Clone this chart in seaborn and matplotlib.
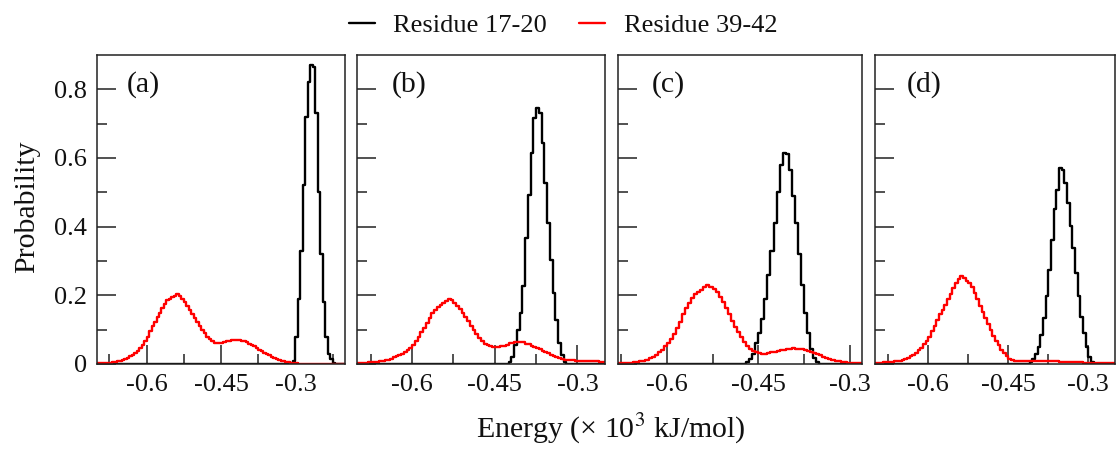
import numpy as np
import pandas as pd
import matplotlib
matplotlib.use("Agg")
import matplotlib.pyplot as plt
import seaborn as sns
from matplotlib.lines import Line2D

# ---------------- data ----------------
BIN = 0.005
panel_labels = ["(a)", "(b)", "(c)", "(d)"]
series_names = ["Residue 17-20", "Residue 39-42"]
x_limits = [(-0.70, -0.20), (-0.70, -0.25), (-0.68, -0.28), (-0.70, -0.25)]
major_xticks = [-0.6, -0.45, -0.3]
major_xtick_labels = ["-0.6", "-0.45", "-0.3"]
minor_xticks = [-0.675, -0.525, -0.375, -0.225]
yticks = [0, 0.2, 0.4, 0.6, 0.8]
ytick_labels = ["0", "0.2", "0.4", "0.6", "0.8"]
minor_yticks = [0.1, 0.3, 0.5, 0.7]

# Residue 17-20 (black) histograms: first bin left edge + bin heights
black_start = [-0.305, -0.425, -0.470, -0.410]
black_a = [0.01, 0.08, 0.19, 0.33, 0.52, 0.72, 0.82, 0.87, 0.865, 0.73, 0.50,
           0.32, 0.18, 0.08, 0.03, 0.015, 0.004]
black_b = [0.007, 0.021, 0.055, 0.10, 0.148, 0.226, 0.367, 0.493, 0.615, 0.717,
           0.747, 0.73, 0.644, 0.528, 0.411, 0.304, 0.206, 0.128, 0.06, 0.026, 0.007]
black_c = [0.005, 0.015, 0.03, 0.06, 0.09, 0.13, 0.19, 0.26, 0.33, 0.41, 0.50,
           0.58, 0.615, 0.612, 0.565, 0.49, 0.41, 0.32, 0.23, 0.15, 0.09, 0.045,
           0.018, 0.005]
black_d = [0.007, 0.015, 0.03, 0.05, 0.085, 0.134, 0.197, 0.274, 0.362, 0.45,
           0.508, 0.571, 0.565, 0.528, 0.469, 0.401, 0.338, 0.265, 0.197, 0.138,
           0.09, 0.05, 0.021, 0.007]

# Residue 39-42 (red) histograms
red_start = [-0.700, -0.700, -0.680, -0.700]
red_a = [0.002, 0.002, 0.002, 0.003, 0.003, 0.004, 0.005, 0.006, 0.008, 0.010,
         0.012, 0.015, 0.018, 0.022, 0.027, 0.032, 0.038, 0.046, 0.055, 0.066,
         0.080, 0.095, 0.110, 0.123, 0.137, 0.150, 0.163, 0.176, 0.185, 0.188,
         0.195, 0.198, 0.204, 0.198, 0.190, 0.180, 0.168, 0.158, 0.147, 0.135,
         0.122, 0.110, 0.099, 0.089, 0.080, 0.072, 0.066, 0.062, 0.060, 0.060,
         0.061, 0.063, 0.066, 0.068, 0.070, 0.070, 0.070, 0.069, 0.068, 0.066,
         0.063, 0.059, 0.055, 0.051, 0.046, 0.042, 0.038, 0.033, 0.029, 0.025,
         0.021, 0.018, 0.015, 0.012, 0.010, 0.008, 0.007, 0.005, 0.004, 0.003,
         0.002, 0.001]
red_b = [0.004, 0.004, 0.004, 0.004, 0.005, 0.005, 0.006, 0.007, 0.008, 0.010,
         0.011, 0.013, 0.016, 0.019, 0.022, 0.026, 0.030, 0.035, 0.041, 0.048,
         0.056, 0.066, 0.079, 0.092, 0.106, 0.119, 0.134, 0.148, 0.158, 0.165,
         0.172, 0.178, 0.184, 0.190, 0.185, 0.178, 0.170, 0.161, 0.148, 0.136,
         0.124, 0.112, 0.098, 0.086, 0.075, 0.066, 0.058, 0.054, 0.052, 0.050,
         0.049, 0.049, 0.051, 0.053, 0.056, 0.060, 0.062, 0.063, 0.064, 0.065,
         0.063, 0.059, 0.057, 0.053, 0.050, 0.047, 0.043, 0.039, 0.035, 0.031,
         0.027, 0.023, 0.019, 0.017, 0.015, 0.013, 0.012, 0.011, 0.011, 0.010,
         0.010, 0.010, 0.009, 0.009, 0.009, 0.009, 0.008, 0.008, 0.007, 0.007]
red_c = [0.002, 0.002, 0.002, 0.003, 0.004, 0.005, 0.006, 0.008, 0.010, 0.013,
         0.017, 0.021, 0.027, 0.034, 0.042, 0.051, 0.062, 0.074, 0.088, 0.104,
         0.121, 0.145, 0.162, 0.178, 0.192, 0.203, 0.210, 0.216, 0.224, 0.231,
         0.225, 0.218, 0.210, 0.195, 0.180, 0.162, 0.145, 0.126, 0.108, 0.093,
         0.078, 0.064, 0.053, 0.045, 0.039, 0.034, 0.031, 0.029, 0.030, 0.032,
         0.034, 0.036, 0.038, 0.040, 0.042, 0.043, 0.045, 0.046, 0.045, 0.045,
         0.044, 0.042, 0.039, 0.036, 0.032, 0.028, 0.025, 0.021, 0.017, 0.014,
         0.012, 0.010, 0.008, 0.006, 0.005, 0.004, 0.003, 0.002, 0.002, 0.002]
red_d = [0.004, 0.004, 0.004, 0.005, 0.005, 0.006, 0.007, 0.008, 0.009, 0.010,
         0.012, 0.015, 0.018, 0.022, 0.027, 0.033, 0.040, 0.048, 0.057, 0.067,
         0.080, 0.095, 0.112, 0.128, 0.145, 0.158, 0.172, 0.190, 0.205, 0.222,
         0.235, 0.248, 0.255, 0.250, 0.242, 0.235, 0.224, 0.206, 0.188, 0.170,
         0.152, 0.134, 0.116, 0.098, 0.082, 0.068, 0.055, 0.042, 0.032, 0.022,
         0.016, 0.012, 0.010, 0.009, 0.009, 0.009, 0.009, 0.009, 0.009, 0.010,
         0.010, 0.010, 0.010, 0.010, 0.010, 0.009, 0.009, 0.008, 0.008, 0.007,
         0.007, 0.007, 0.006, 0.006, 0.006, 0.005, 0.005, 0.005, 0.004, 0.004,
         0.004, 0.004, 0.003, 0.003, 0.003, 0.003, 0.003, 0.003, 0.002, 0.002]

black_sets = [black_a, black_b, black_c, black_d]
red_sets = [red_a, red_b, red_c, red_d]

# ---------------- style ----------------
sns.set_style("ticks")
plt.rcParams["font.family"] = ["Liberation Serif", "DejaVu Serif"]
plt.rcParams["mathtext.fontset"] = "stix"
plt.rcParams["axes.unicode_minus"] = False
FS = 19        # tick labels and legend
FS_LAB = 21.5  # axis titles and panel tags
TXT = "#111111"

W, H = 1116, 450
fig = plt.figure(figsize=(W / 100, H / 100), dpi=100)
boxes = [(97, 55, 345, 364), (357, 55, 605, 364), (618, 55, 862, 364), (875, 55, 1115, 364)]
label_offsets = [30, 35, 34, 32]


def draw_hist(ax, start, values, xlim, color):
    vals = np.asarray(values, dtype=float)
    n_left = max(int(round((start - xlim[0]) / BIN)), 0)
    n_total = int(round((xlim[1] - xlim[0]) / BIN))
    n_right = max(n_total - n_left - len(vals), 0)
    full = np.concatenate([np.zeros(n_left), vals, np.zeros(n_right)])
    n = len(full)
    centers = xlim[0] + BIN * (np.arange(n) + 0.5)
    df = pd.DataFrame({"energy": centers, "prob": full})
    sns.histplot(data=df, x="energy", weights="prob", binwidth=BIN,
                 binrange=(xlim[0], xlim[0] + BIN * n),
                 element="step", fill=False, color=color, linewidth=1.7, ax=ax)


for i, (l, t, r, b) in enumerate(boxes):
    ax = fig.add_axes([l / W, 1 - b / H, (r - l) / W, (b - t) / H])
    xlim = x_limits[i]
    draw_hist(ax, black_start[i], black_sets[i], xlim, "black")
    draw_hist(ax, red_start[i], red_sets[i], xlim, "#ff0000")
    ax.set_xlabel("")
    ax.set_ylabel("")
    ax.set_xticks(major_xticks)
    ax.set_xticklabels(major_xtick_labels)
    ax.set_xticks(minor_xticks, minor=True)
    ax.set_yticks(yticks)
    if i == 0:
        ax.set_yticklabels(ytick_labels)
    else:
        ax.set_yticklabels([])
    ax.set_yticks(minor_yticks, minor=True)
    # limits last, so that ticks outside the range do not widen the view
    ax.set_xlim(*xlim)
    ax.set_ylim(0, 0.9)
    ax.tick_params(which="both", direction="in", top=False, right=False,
                   width=1.1, color="#222222", labelsize=FS, labelcolor=TXT)
    ax.tick_params(which="major", length=13.5, pad=7)
    ax.tick_params(which="minor", length=7)
    for sp in ax.spines.values():
        sp.set_visible(True)
        sp.set_linewidth(1.1)
        sp.set_color("#222222")
    ax.text(label_offsets[i] / (r - l), 1 - 30 / (b - t), panel_labels[i],
            transform=ax.transAxes, ha="left", va="center", fontsize=FS_LAB,
            color=TXT)

fig.text(27 / W, 1 - 207 / H, "Probability", rotation=90, ha="center",
         va="center", fontsize=FS_LAB, color=TXT)
fig.text(611 / W, 1 - 429 / H, "Energy (\u00d7 10$^{3}$ kJ/mol)", ha="center",
         va="center", fontsize=FS_LAB, color=TXT)

handles = [Line2D([], [], color="black", lw=1.7),
           Line2D([], [], color="#ff0000", lw=1.7)]
fig.legend(handles, series_names, loc="center",
           bbox_to_anchor=(563 / W, 1 - 25 / H), ncol=2, frameon=False,
           fontsize=FS, handlelength=1.0, handletextpad=0.7,
           columnspacing=1.2, labelcolor=TXT)

fig.savefig("out.png", dpi=100)
